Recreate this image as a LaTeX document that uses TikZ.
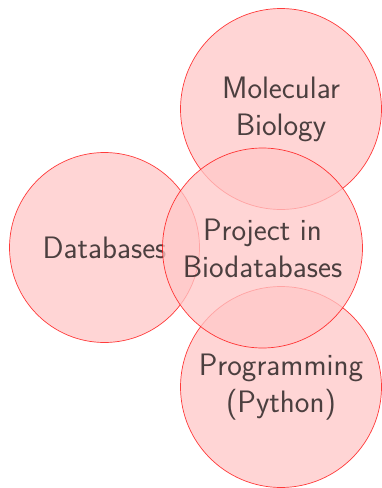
\documentclass[tikz,border=0pt]{standalone}
\begin{document}
\begin{tikzpicture}[x=1pt,y=-1pt,
  topic/.style={circle, inner sep=0pt, align=center, draw=red, fill=red!22,
    line width=0.7pt, draw opacity=0.75, fill opacity=0.75,
    text=black, text opacity=0.7,
    font=\sffamily\fontsize{31}{37}\selectfont}]
  \useasboundingbox (0,0) rectangle (381,488);
  % outer topics first, the project circle on top
  \node[topic, minimum size=190pt] (db)  at (104.5,247.5) {Databases};
  \node[topic, minimum size=201pt] (mb)  at (281,109) {Molecular\\Biology};
  \node[topic, minimum size=201pt] (py)  at (281,387) {Programming\\(Python)};
  \node[topic, minimum size=200pt] (prj) at (262.5,248) {Project in\\Biodatabases};
\end{tikzpicture}
\end{document}
